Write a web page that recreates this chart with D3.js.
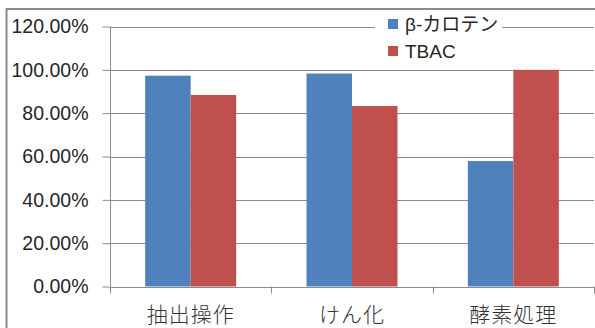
<!DOCTYPE html>
<html>
<head>
<meta charset="utf-8">
<script src="https://cdn.jsdelivr.net/npm/d3@7"></script>
<style>
  html, body { margin: 0; padding: 0; background: #fff; }
  svg { display: block; }
</style>
</head>
<body>
<svg id="chart" width="595" height="328"></svg>
<script>
// Categories and series
const categories = ["抽出操作", "けん化", "酵素処理"];
const seriesNames = ["β-カロテン", "TBAC"];
const betaCarotene = [0.973, 0.983, 0.579];
const tbac = [0.884, 0.833, 1.0];
const yTicks = [0, 0.2, 0.4, 0.6, 0.8, 1.0, 1.2];
const colors = ["#4F81BD", "#C0504D"];

const seriesValues = [betaCarotene, tbac];
const rows = categories.map((c, i) => ({
  category: c,
  values: seriesNames.map((s, j) => ({ series: s, value: seriesValues[j][i], color: colors[j] }))
}));

const svg = d3.select("#chart");
const gridColor = "#8c8c8c";
const textColor = "#262626";
const plot = { left: 110, right: 594, top: 26.5, bottom: 286.5 };

// Outer chart frame
svg.append("rect")
  .attr("x", 6.5).attr("y", 9)
  .attr("width", 620).attr("height", 340)
  .attr("fill", "#fff")
  .attr("stroke", "#8a8a8a").attr("stroke-width", 2);

const x = d3.scaleBand()
  .domain(categories)
  .range([plot.left, plot.right])
  .paddingInner(0.436)
  .paddingOuter(0.218);

const xSeries = d3.scaleBand()
  .domain(seriesNames)
  .range([0, x.bandwidth()]);

const y = d3.scaleLinear()
  .domain([0, 1.2])
  .range([plot.bottom, plot.top]);

// Horizontal gridlines
svg.append("g")
  .selectAll("line")
  .data(yTicks)
  .join("line")
  .attr("x1", plot.left).attr("x2", plot.right)
  .attr("y1", d => Math.round(y(d)) + 0.5)
  .attr("y2", d => Math.round(y(d)) + 0.5)
  .attr("stroke", gridColor).attr("stroke-width", 1);

// Y axis
const yAxis = svg.append("g")
  .attr("transform", `translate(${plot.left + 0.5},0)`)
  .call(d3.axisLeft(y).tickValues(yTicks).tickSize(8).tickPadding(14)
    .tickFormat(d => (d * 100).toFixed(2) + "%"));
yAxis.select(".domain").attr("stroke", gridColor).attr("d", `M0,${plot.top}V${plot.bottom}`);
yAxis.selectAll(".tick line").attr("stroke", gridColor);
yAxis.selectAll(".tick text")
  .attr("fill", textColor)
  .style("font-family", "'Liberation Sans', Arial, sans-serif")
  .style("font-size", "19.5px");

// Bars
svg.append("g")
  .selectAll("g")
  .data(rows)
  .join("g")
  .attr("transform", d => `translate(${x(d.category)},0)`)
  .selectAll("rect")
  .data(d => d.values)
  .join("rect")
  .attr("x", d => xSeries(d.series))
  .attr("width", xSeries.bandwidth())
  .attr("y", d => y(d.value))
  .attr("height", d => y(0) - y(d.value))
  .attr("fill", d => d.color);

// X axis line and category separators
const xAxis = svg.append("g");
xAxis.append("line")
  .attr("x1", plot.left).attr("x2", plot.right)
  .attr("y1", Math.round(y(0)) + 0.5).attr("y2", Math.round(y(0)) + 0.5)
  .attr("stroke", gridColor);
const step = x.step();
xAxis.selectAll("line.sep")
  .data(d3.range(categories.length + 1))
  .join("line")
  .attr("class", "sep")
  .attr("x1", i => Math.round(plot.left + i * step) + 0.5)
  .attr("x2", i => Math.round(plot.left + i * step) + 0.5)
  .attr("y1", y(0)).attr("y2", y(0) + 7)
  .attr("stroke", gridColor);
xAxis.selectAll("text")
  .data(categories)
  .join("text")
  .attr("x", d => x(d) + x.bandwidth() / 2)
  .attr("y", 322)
  .attr("text-anchor", "middle")
  .attr("fill", "#333")
  .style("font-family", "'Noto Sans CJK JP', sans-serif")
  .style("font-size", "21px")
  .style("font-weight", "300")
  .style("letter-spacing", "1px")
  .text(d => d);

// Legend
const legend = svg.append("g").attr("transform", "translate(375,13)");
legend.append("rect")
  .attr("width", 127).attr("height", 50)
  .attr("fill", "#fff");
const items = legend.selectAll("g.item")
  .data(seriesNames)
  .join("g")
  .attr("class", "item")
  .attr("transform", (d, i) => `translate(13,${6 + i * 27})`);
items.append("rect")
  .attr("width", 10).attr("height", 10)
  .attr("fill", (d, i) => colors[i]);
items.append("text")
  .attr("x", 17).attr("y", 11.5)
  .attr("fill", textColor)
  .style("font-family", "'Liberation Sans', 'Noto Sans CJK JP', sans-serif")
  .style("font-size", "19px")
  .text(d => d);
</script>
</body>
</html>
